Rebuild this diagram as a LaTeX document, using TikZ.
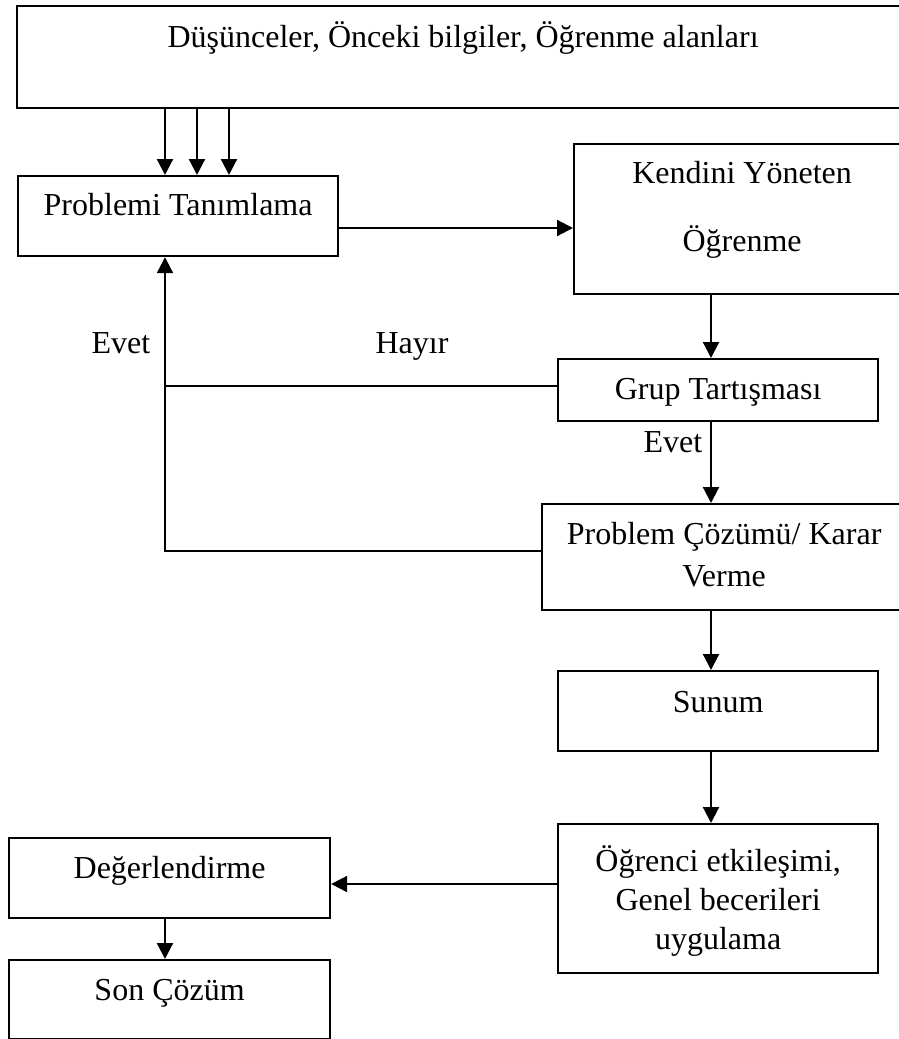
\documentclass[tikz,border=0pt]{standalone}
\usepackage{fontspec}
\setmainfont{Liberation Serif}
\usetikzlibrary{arrows.meta}

\tikzstyle{rec} = [rectangle, draw = black, line width = 2.2pt, inner sep = 0pt, anchor = north west, text centered, align = center]
\tikzstyle{lbl} = [anchor = base, inner sep = 0pt]
\tikzstyle{arrow} = [line width = 2.2pt, -{Triangle[length=16pt, width=16pt]}, draw = black]
\tikzstyle{line} = [line width = 2.2pt, -, draw = black]

\begin{document}
\begin{tikzpicture}[x = 1pt, y = -1pt, font = \fontsize{32}{38}\selectfont]
    \clip (0, 0) rectangle (899, 1039);
    \node(ideas)[rec, minimum width = 892pt, text height = 41pt, text depth = 61pt] at (16, 5) {Düşünceler, Önceki bilgiler, Öğrenme alanları};
    \node(define)[rec, minimum width = 320pt, text height = 39pt, text depth = 41pt] at (17, 175) {Problemi Tanımlama};
    % multi-line nodes: text height counts to the last baseline
    \node(selfdir)[rec, minimum width = 336pt, text height = 107pt, text depth = 43pt] at (573, 143) {Kendini Yöneten\\[30pt]Öğrenme};
    \node(group)[rec, minimum width = 320pt, text height = 40pt, text depth = 22pt] at (557, 358) {Grup Tartışması};
    \node(solve)[rec, minimum width = 364pt, text height = 82pt, text depth = 24pt] at (541, 503) {Problem Çözümü/ Karar\\[4pt]Verme};
    \node(present)[rec, minimum width = 320pt, text height = 41pt, text depth = 39pt] at (557, 670) {Sunum};
    \node(interact)[rec, minimum width = 320pt, text height = 125pt, text depth = 24pt] at (557, 823) {Öğrenci etkileşimi,\\[1pt]Genel becerileri\\[1pt]uygulama};
    \node(assess)[rec, minimum width = 321pt, text height = 40pt, text depth = 40pt] at (8, 837) {Değerlendirme};
    \node(final)[rec, minimum width = 321pt, text height = 40pt, text depth = 39pt] at (8, 959) {Son Çözüm};
    \node(yes1)[lbl] at (121, 353) {Evet};
    \node(no)[lbl] at (412, 353) {Hayır};
    \node(yes2)[lbl] at (673, 452) {Evet};
    \coordinate(col) at (711, 0);
    \coordinate(back) at (165, 386);
    \coordinate(loop) at (165, 551);
    \foreach \x in {165, 197, 229}
        \draw[arrow] (\x, 0 |- ideas.south) -- (\x, 0 |- define.north);
    \draw[arrow] (define.east |- 0, 228) -- (selfdir.west |- 0, 228);
    \draw[arrow] (selfdir.south -| col) -- (group.north -| col);
    \draw[arrow] (group.south -| col) -- (solve.north -| col);
    \draw[arrow] (solve.south -| col) -- (present.north -| col);
    \draw[arrow] (present.south -| col) -- (interact.north -| col);
    \draw[line] (group.west |- back) -- (back);
    \draw[line] (solve.west |- loop) -- (loop) -- (back);
    \draw[arrow] (back) -- (back |- define.south);
    \draw[arrow] (interact.west |- 0, 884) -- (assess.east |- 0, 884);
    \draw[arrow] (165, 0 |- assess.south) -- (165, 0 |- final.north);
\end{tikzpicture}
\end{document}
